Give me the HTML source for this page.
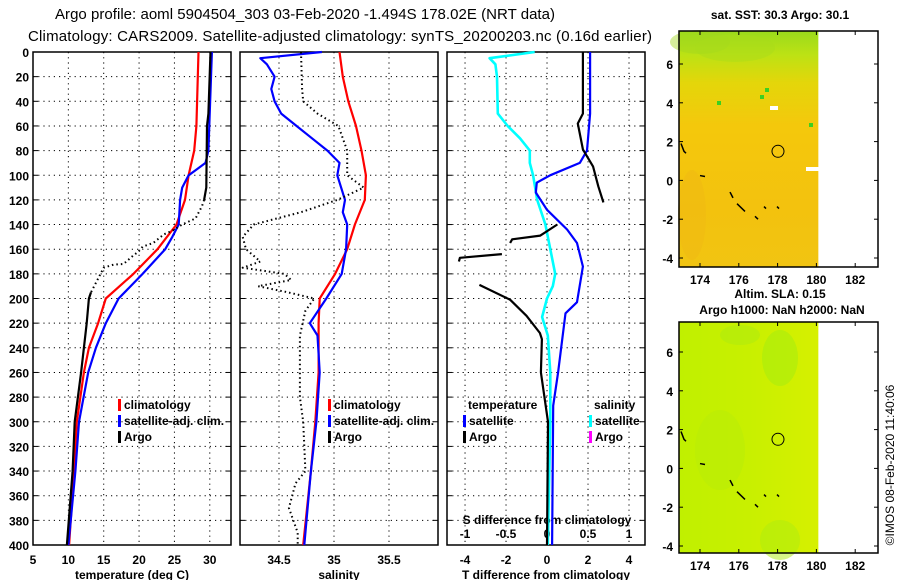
<!DOCTYPE html>
<html><head><meta charset="utf-8"><style>
html,body{margin:0;padding:0;background:#fff;}
svg{display:block;font-family:"Liberation Sans",sans-serif;}
.t{font-weight:bold;font-size:12px;fill:#000;}
</style></head><body>
<svg id="chart" width="900" height="580" viewBox="0 0 900 580">
<defs>
<linearGradient id="sstg" x1="0" y1="0" x2="0" y2="1">
<stop offset="0" stop-color="#9ada1c"/><stop offset="0.1" stop-color="#bce214"/><stop offset="0.22" stop-color="#e4d60a"/><stop offset="0.4" stop-color="#f4c80c"/><stop offset="0.75" stop-color="#f3c20e"/><stop offset="1" stop-color="#f1c412"/>
</linearGradient>
<linearGradient id="slag" x1="0" y1="0" x2="1" y2="0">
<stop offset="0" stop-color="#c0f000"/><stop offset="0.5" stop-color="#c8f000"/><stop offset="1" stop-color="#d6f000"/>
</linearGradient>
</defs>
<text x="305" y="19" text-anchor="middle" font-size="15" textLength="500">Argo profile: aoml 5904504_303 03-Feb-2020 -1.494S 178.02E (NRT data)</text>
<text x="340" y="41" text-anchor="middle" font-size="15" textLength="624">Climatology: CARS2009. Satellite-adjusted climatology: synTS_20200203.nc (0.16d earlier)</text>
<g id="panels"></g>
<g id="maps"></g>
<text transform="translate(894,465) rotate(-90)" text-anchor="middle" font-size="12">©IMOS 08-Feb-2020 11:40:06</text>
</svg>
<script>
// ---- data ----
const depthTicks = [0,20,40,60,80,100,120,140,160,180,200,220,240,260,280,300,320,340,360,380,400];
const tempTicks = [5,10,15,20,25,30];
const salTicks = [34.5,35,35.5];
const tdiffTicks = [-4,-2,0,2,4];
const sdiffTickLabels = ['-1','-0.5','0','0.5','1'];
const sdiffTicks = [-1,-0.5,0,0.5,1];

const climDepth = [0,60,80,100,120,140,160,180,200,220,240,260,300,340,400];
const climTemp  = [28.4,28.1,27.8,27.0,26.5,25.3,22.6,19.2,15.3,14.2,12.9,12.2,11.2,10.8,10.1];
const satDepth = [0,80,90,95,100,110,120,140,150,160,180,200,220,240,260,300,340,400];
const satTemp  = [30.3,29.8,29.4,28.2,27.0,26.1,25.8,25.6,24.7,23.7,20.5,17.1,15.3,13.9,12.8,11.5,11.0,10.0];
const argoDepth = [0,50,60,110,120,125,135,140,145,148,155,158,162,165,172,172.5,175,195,200,220,260,300,340,400];
const argoTemp  = [30.1,29.8,29.6,29.5,29.2,28.9,28.0,26.1,24.7,23.5,22.0,20.5,19.9,19.2,17.8,16.4,15.0,13.2,12.9,12.6,11.8,10.9,10.6,9.8];

const climSalDepth = [0,20,40,60,80,100,120,140,160,180,200,220,260,300,340,400];
const climSal = [35.05,35.08,35.13,35.2,35.25,35.29,35.28,35.19,35.12,35.01,34.87,34.86,34.86,34.83,34.79,34.72];
const satSalDepth = [0,5,10,20,30,40,50,60,70,80,90,100,120,130,140,160,180,200,220,230,260,300,340,400];
const satSal = [34.89,34.33,34.39,34.46,34.43,34.46,34.52,34.66,34.8,34.94,35.05,35.03,35.1,35.08,35.12,35.11,35.07,34.93,34.78,34.85,34.87,34.84,34.79,34.73];
const argoSalDepth = [0,30,40,50,60,80,100,110,120,130,140,150,160,170,175,180,185,190,195,200,210,230,250,280,300,340,350,370,390,400];
const argoSal = [34.7,34.71,34.72,34.85,35.04,35.12,35.12,35.27,35.03,34.7,34.27,34.17,34.2,34.33,34.17,34.55,34.61,34.31,34.58,34.82,34.74,34.69,34.69,34.69,34.72,34.74,34.65,34.59,34.67,34.67];

const sdDepth = [0,5,10,20,50,60,70,80,90,100,120,140,160,180,190,200,215,230,260,300,400];
const sdSat = [-0.15,-0.7,-0.63,-0.61,-0.6,-0.48,-0.33,-0.21,-0.21,-0.17,-0.12,-0.02,0.04,0.1,0.07,0.0,-0.06,0.01,0.04,0.04,0.01];
const tdDepth = [0,50,80,90,100,106,114,128,144,155,174,203,212,260,287,400];
const tdSat = [2.1,2.1,1.95,1.6,0.15,-0.5,-0.55,0.0,0.98,1.46,1.75,1.46,0.9,0.54,0.3,0.25];
const tdArgoDepth = [0,50,58,79,93,109,122,null,140,149,152,155,null,164,167,170,null,189,201,214,228,233,260,300,400];
const tdArgo = [1.75,1.75,1.5,1.75,2.25,2.5,2.75,null,0.5,-0.33,-1.7,-1.8,null,-2.2,-4.25,-4.3,null,-3.3,-1.8,-1.0,-0.35,-0.25,-0.3,0.05,0.0];

// ---- layout ----
const NS='http://www.w3.org/2000/svg';
const Y0=52, Y1=545;
const yD = d => Y0 + (d/400)*(Y1-Y0);
function mk(tag, attrs, parent){const e=document.createElementNS(NS,tag);for(const k in attrs)e.setAttribute(k,attrs[k]);parent.appendChild(e);return e;}
const G=document.getElementById('panels');

function panel(name,x0,x1,xmin,xmax){
  const g=mk('g',{},G);
  
  
  const sx=v=>x0+(v-xmin)/(xmax-xmin)*(x1-x0);
  return {g,sx,x0,x1};
}
function grid(p,xt){
  depthTicks.forEach(d=>{ if(d>0&&d<400){const l=mk('line',{x1:p.x0,x2:p.x1,y1:yD(d),y2:yD(d),stroke:'#000','stroke-dasharray':'1.2,4','stroke-width':1},p.g);
    }
    mk('line',{x1:p.x0,x2:p.x0+5,y1:yD(d),y2:yD(d),stroke:'#000'},p.g);mk('line',{x1:p.x1-5,x2:p.x1,y1:yD(d),y2:yD(d),stroke:'#000'},p.g);});
  xt.forEach(v=>{const x=p.sx(v);const l=mk('line',{x1:x,x2:x,y1:Y0,y2:Y1,stroke:'#000','stroke-dasharray':'1.2,4','stroke-width':1},p.g);
    });
  const r=mk('rect',{x:p.x0,y:Y0,width:p.x1-p.x0,height:Y1-Y0,fill:'none',stroke:'#000','stroke-width':1.5},p.g);
  
}
function line(p,depths,vals,color,w,name,dash,dmin,dmax){
  let d='';let pen=false;
  for(let i=0;i<vals.length;i++){
    if(vals[i]===null||depths[i]===null){pen=false;continue;}
    if(dmin!==undefined&&(depths[i]<dmin||depths[i]>dmax)){pen=false;continue;}
    d+=(pen?'L':'M')+p.sx(vals[i]).toFixed(1)+','+yD(depths[i]).toFixed(1);pen=true;
  }
  const e=mk('path',{d,fill:'none',stroke:color,'stroke-width':w,'stroke-linejoin':'round'},p.g);
  if(dash)e.setAttribute('stroke-dasharray',dash);
  
  
  return e;
}
function txt(parent,x,y,s,anchor,name,size){
  const t=mk('text',{x,y,'text-anchor':anchor||'start',class:'t'},parent);
  if(size)t.setAttribute('font-size',size);
  t.textContent=s;
  
  
  return t;
}
function legend(p,x,y,color,label){
  const r=mk('rect',{x:x,y:y-10,width:3,height:12,fill:color},p.g);
  
  
  txt(p.g,x+6,y,label,'start','legend-entry');
}

// Panel 1 temperature
const p1=panel('temperature-panel',33,231,5,33);
grid(p1,[10,15,20,25,30]);
depthTicks.forEach(d=>txt(p1.g,29,yD(d)+5,String(d),'end','depth-tick-label'));
tempTicks.forEach(v=>txt(p1.g,p1.sx(v),564,String(v),'middle','temp-tick-label'));
txt(p1.g,132,579,'temperature (deg C)','middle','x-axis-title-temperature');
line(p1,climDepth,climTemp,'#ff0000',2.2,'climatology-temp-line');
line(p1,satDepth,satTemp,'#0000ff',2.2,'satellite-temp-line');
line(p1,argoDepth,argoTemp,'#000',2.2,'argo-temp-line-upper',null,0,120);
line(p1,argoDepth,argoTemp,'#000',2,'argo-temp-line-mid','1.5,3',120,200);
line(p1,argoDepth,argoTemp,'#000',2.2,'argo-temp-line-lower',null,195,400);
legend(p1,118,409,'#f00','climatology');
legend(p1,118,425,'#00f','satellite-adj. clim.');
legend(p1,118,441,'#000','Argo');

// Panel 2 salinity
const p2=panel('salinity-panel',240,438,34.1455,35.9455);
grid(p2,salTicks);
txt(p2.g,p2.sx(34.5),564,'34.5','middle','sal-tick-label');
txt(p2.g,p2.sx(35),564,'35','middle','sal-tick-label');
txt(p2.g,p2.sx(35.5),564,'35.5','middle','sal-tick-label');
txt(p2.g,339,579,'salinity','middle','x-axis-title-salinity');
line(p2,climSalDepth,climSal,'#ff0000',2.2,'climatology-sal-line');
line(p2,satSalDepth,satSal,'#0000ff',2.2,'satellite-sal-line');
line(p2,argoSalDepth,argoSal,'#000',2,'argo-sal-line','1.5,3');
legend(p2,328,409,'#f00','climatology');
legend(p2,328,425,'#00f','satellite-adj. clim.');
legend(p2,328,441,'#000','Argo');

// Panel 3 differences (T scale; S scaled x4)
const p3=panel('difference-panel',447,645,-4.88,4.78);
grid(p3,[-4,-2,0,2,4]);
tdiffTicks.forEach(v=>txt(p3.g,p3.sx(v),564,String(v),'middle','tdiff-tick-label'));
txt(p3.g,546,579,'T difference from climatology','middle','x-axis-title-tdiff');
txt(p3.g,547,524,'S difference from climatology','middle','s-diff-axis-title');
sdiffTicks.forEach((v,i)=>txt(p3.g,p3.sx(v*4),538,sdiffTickLabels[i],'middle','sdiff-tick-label'));
const p3s={g:p3.g,sx:v=>p3.sx(v*4)};
line(p3s,sdDepth,sdSat,'#00ffff',2.6,'satellite-sal-diff-line');
line(p3,tdDepth,tdSat,'#0000ff',2.2,'satellite-temp-diff-line');
line(p3,tdArgoDepth,tdArgo,'#000',2.2,'argo-temp-diff-line');
txt(p3.g,468,409,'temperature','start','legend-title-temperature');
txt(p3.g,594,409,'salinity','start','legend-title-salinity');
legend(p3,463,425,'#00f','satellite');
legend(p3,463,441,'#000','Argo');
legend(p3,589,425,'#0ff','satellite');
legend(p3,589,441,'#f0f','Argo');

// ---- maps ----
const M=document.getElementById('maps');
const lonTicks=[174,176,178,180,182];
const latTicks=[-4,-2,0,2,4,6];
function map(name,top,bot,lat6y,latm4y,fill,title1,title1y,title2,title2y){
  const g=mk('g',{},M);
  
  
  const sx=l=>700+(l-174)*19.4;
  const sy=la=>lat6y+(6-la)*(latm4y-lat6y)/10;
  const r=mk('rect',{x:679,y:top,width:sx(180.1)-679,height:bot-top,fill:fill},g);
  
  if(name==='sst-map'){
    [[700,42,30,12,'#a2d81e'],[735,48,40,14,'#a8dc1a'],[692,215,14,45,'#efb814']].forEach(c=>mk('ellipse',{cx:c[0],cy:c[1],rx:c[2],ry:c[3],fill:c[4],opacity:0.45},g));
    [[770,106],[806,167]].forEach((c,i)=>{mk('rect',{x:c[0],y:c[1],width:i?13:8,height:4,fill:'#fff'},g);});
    [[717,101],[760,95],[765,88],[809,123]].forEach(c=>mk('rect',{x:c[0],y:c[1],width:4,height:4,fill:'#3cd020'},g));
  } else {
    [[780,358,18,28,'#a2ec10'],[780,540,20,20,'#aeec10'],[740,335,20,10,'#acea10'],[720,450,25,40,'#b8ec08']].forEach(c=>mk('ellipse',{cx:c[0],cy:c[1],rx:c[2],ry:c[3],fill:c[4],opacity:0.5},g));
  }
  // coastline fragments
  [[[681,sy(1.9)],[684,sy(1.5)],[686,sy(1.4)]],[[730,sy(-0.6)],[733,sy(-0.9)]],[[737,sy(-1.2)],[745,sy(-1.6)]],[[755,sy(-1.85)],[758,sy(-2)]],[[764,sy(-1.35)],[766,sy(-1.45)]],[[777,sy(-1.35)],[779,sy(-1.45)]],[[700,sy(0.25)],[705,sy(0.2)]]].forEach(s=>{
    const c=mk('polyline',{points:s.map(p=>p.join(',')).join(' '),fill:'none',stroke:'#000','stroke-width':1.5},g);
    });
  const fr=mk('rect',{x:679,y:top,width:199,height:bot-top,fill:'none',stroke:'#000','stroke-width':1.5},g);
  
  lonTicks.forEach(l=>{mk('line',{x1:sx(l),x2:sx(l),y1:top,y2:top+4,stroke:'#000'},g);mk('line',{x1:sx(l),x2:sx(l),y1:bot-4,y2:bot,stroke:'#000'},g);
    txt(g,sx(l),bot+17,String(l),'middle','lon-tick-label');});
  latTicks.forEach(la=>{mk('line',{x1:679,x2:683,y1:sy(la),y2:sy(la),stroke:'#000'},g);mk('line',{x1:874,x2:878,y1:sy(la),y2:sy(la),stroke:'#000'},g);
    txt(g,673,sy(la)+5,String(la),'end','lat-tick-label');});
  const c=mk('circle',{cx:sx(178.02),cy:sy(1.5),r:6,fill:'none',stroke:'#000','stroke-width':1},g);
  
  txt(g,780,title1y,title1,'middle','map-title');
  if(title2)txt(g,782,title2y,title2,'middle','map-subtitle');
}
map('sst-map',31,267,64,258,'url(#sstg)','sat. SST: 30.3 Argo: 30.1',19);
map('sla-map',322,553,352,546,'url(#slag)','Altim. SLA: 0.15',298,'Argo h1000: NaN h2000: NaN',314);
</script>
</body></html>
